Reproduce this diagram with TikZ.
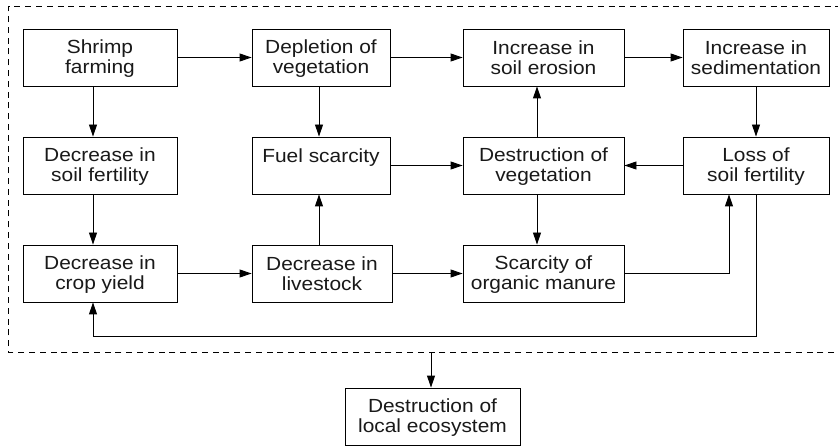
\documentclass[tikz,border=0pt]{standalone}
\usepackage{fontspec}
\setmainfont{Liberation Sans}[FakeStretch=1.1]
\usetikzlibrary{arrows.meta}
\newcommand\tp{\rule{0pt}{16pt}}
\newcommand\bt{\rule[-2pt]{0pt}{2pt}}
\begin{document}
\begin{tikzpicture}[x=1pt,y=-1pt,
  box/.style={draw, line width=0.9pt, inner sep=0pt, minimum height=57pt, align=center,
    font=\fontsize{19}{20}\selectfont, text=black!90},
  arr/.style={line width=0.9pt, -{Triangle[length=12pt,width=8pt]}},
  dashbox/.style={line width=0.8pt, dash pattern=on 6pt off 4.8pt}]
\useasboundingbox (0,0) rectangle (838,446);
\fill[white] (0,0) rectangle (838,446);
% boxes
\node[box, minimum width=154pt] (shrimp) at (100,57.5) {\tp Shrimp\\farming\bt};
\node[box, minimum width=138pt] (depl) at (321,57.5) {\tp Depletion of\\vegetation\bt};
\node[box, minimum width=161pt] (eros) at (543.5,57.5) {\tp Increase in\\soil erosion\bt};
\node[box, minimum width=146pt] (sedi) at (756,57.5) {\tp Increase in\\sedimentation\bt};
\node[box, minimum width=154pt] (dsf) at (100,165.5) {\tp Decrease in\\soil fertility\bt};
\node[box, minimum width=138pt] (fuel) at (321,165.5) {\tp Fuel scarcity\\\mbox{}\bt};
\node[box, minimum width=161pt] (dveg) at (543.5,165.5) {\tp Destruction of\\vegetation\bt};
\node[box, minimum width=146pt] (loss) at (756,165.5) {\tp Loss of\\soil fertility\bt};
\node[box, minimum width=154pt] (crop) at (100,273.5) {\tp Decrease in\\crop yield\bt};
\node[box, minimum width=140pt] (live) at (322,273.5) {\tp Decrease in\\livestock\bt};
\node[box, minimum width=161pt] (manure) at (543.5,273.5) {\tp Scarcity of\\organic manure\bt};
\node[box, minimum width=175pt] (eco) at (432.5,416.5) {\tp Destruction of\\local ecosystem\bt};
% helper coordinates
\coordinate (xa) at (93,0);
\coordinate (xb) at (319,0);
\coordinate (xc) at (537,0);
\coordinate (xd) at (729,0);
\coordinate (yfb) at (0,336);
\coordinate (db) at (431,352);
% dashed frame
\draw[dashbox] (845,352) -- (8.5,352) -- (8.5,6.5) -- (845,6.5);
% connectors
\draw[arr] (shrimp) -- (depl);
\draw[arr] (depl) -- (eros);
\draw[arr] (eros) -- (sedi);
\draw[arr] (shrimp.south -| xa) -- (dsf.north -| xa);
\draw[arr] (dsf.south -| xa) -- (crop.north -| xa);
\draw[arr] (depl.south -| xb) -- (fuel.north -| xb);
\draw[arr] (live.north -| xb) -- (fuel.south -| xb);
\draw[arr] (fuel) -- (dveg);
\draw[arr] (loss) -- (dveg);
\draw[arr] (dveg.north -| xc) -- (eros.south -| xc);
\draw[arr] (dveg.south -| xc) -- (manure.north -| xc);
\draw[arr] (sedi) -- (loss);
\draw[arr] (crop) -- (live);
\draw[arr] (live) -- (manure);
\draw[arr] (manure.east) -| (loss.south -| xd);
\draw[arr] (loss.south) -- (loss.south |- yfb) -| (crop.south -| xa);
\draw[arr] (db) -- (eco.north -| db);
\end{tikzpicture}
\end{document}
